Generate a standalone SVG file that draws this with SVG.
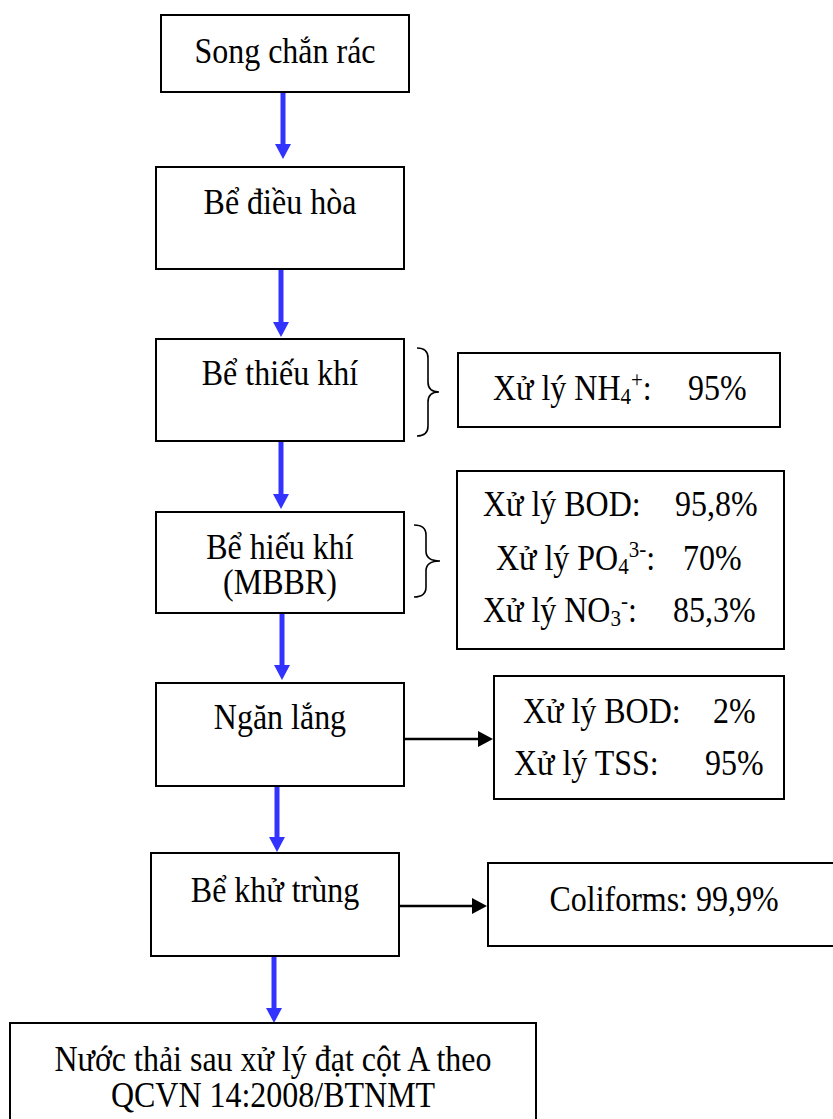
<svg xmlns="http://www.w3.org/2000/svg" width="833" height="1119" viewBox="0 0 833 1119">
<defs>
<style>
.box{fill:#fff;stroke:#000;stroke-width:2}
text{font-family:'Liberation Serif','Times New Roman','DejaVu Serif',serif;font-size:35px;fill:#000}
.c{text-anchor:middle}
.s{font-size:23px}
.flow{stroke:#3333ff;stroke-width:5;fill:none}
.side{stroke:#000;stroke-width:2.5;fill:none}
.brace{stroke:#000;stroke-width:1.6;fill:none}
</style>
<marker id="ab" viewBox="0 0 15 16" refX="0" refY="8" markerWidth="15" markerHeight="16" markerUnits="userSpaceOnUse" orient="auto"><path d="M0,0 L15,8 L0,16 z" fill="#3333ff"/></marker>
<marker id="ak" viewBox="0 0 15 16" refX="0" refY="8" markerWidth="15" markerHeight="16" markerUnits="userSpaceOnUse" orient="auto"><path d="M0,0 L15,8 L0,16 z" fill="#000"/></marker>
</defs>
<rect width="833" height="1119" fill="#fff"/>
<g id="connectors">
<line class="flow" x1="283" y1="92" x2="283" y2="144" marker-end="url(#ab)"/>
<line class="flow" x1="281" y1="269" x2="281" y2="322" marker-end="url(#ab)"/>
<line class="flow" x1="281" y1="441" x2="281" y2="494" marker-end="url(#ab)"/>
<line class="flow" x1="282" y1="613" x2="282" y2="665" marker-end="url(#ab)"/>
<line class="flow" x1="277" y1="786" x2="277" y2="837" marker-end="url(#ab)"/>
<line class="flow" x1="274" y1="956" x2="274" y2="1008" marker-end="url(#ab)"/>
<line class="side" x1="404" y1="739" x2="478" y2="739" marker-end="url(#ak)"/>
<line class="side" x1="399" y1="906" x2="472" y2="906" marker-end="url(#ak)"/>
<path class="brace" d="M417,348 Q428,348 428,358 L428,382 Q428,392 439,392 Q428,392 428,402 L428,426 Q428,436 417,436"/>
<path class="brace" d="M414,525 Q426,525 426,535 L426,551 Q426,561 440,561 Q426,561 426,571 L426,587 Q426,597 414,597"/>
</g>
<g id="n1"><rect class="box" x="161" y="15" width="248" height="77"/><text class="c" transform="scale(0.914,1)" x="311.8" y="63">Song chắn rác</text></g>
<g id="n2"><rect class="box" x="156" y="167" width="248" height="102"/><text class="c" transform="scale(0.914,1)" x="306.3" y="214">Bể điều hòa</text></g>
<g id="n3"><rect class="box" x="156" y="339" width="248" height="102"/><text class="c" transform="scale(0.914,1)" x="306.3" y="385">Bể thiếu khí</text></g>
<g id="n3r"><rect class="box" x="458" y="353" width="322" height="74"/>
<g transform="scale(0.914,1)">
<text x="539.4" y="400">Xử lý NH<tspan class="s" dy="4">4</tspan><tspan class="s" dy="-17">+</tspan><tspan dy="13">:</tspan></text>
<text x="752.7" y="400">95%</text></g></g>
<g id="n4"><rect class="box" x="156" y="512" width="248" height="101"/>
<g transform="scale(0.914,1)"><text class="c" x="306.3" y="559">Bể hiếu khí</text><text class="c" x="306.3" y="594">(MBBR)</text></g></g>
<g id="n4r"><rect class="box" x="457" y="471" width="327" height="178"/>
<g transform="scale(0.914,1)">
<text x="528.4" y="516">Xử lý BOD:</text><text x="738.5" y="516">95,8%</text>
<text x="542.7" y="570">Xử lý PO<tspan class="s" dy="4">4</tspan><tspan class="s" dy="-17">3-</tspan><tspan dy="13">:</tspan></text><text x="747.3" y="570">70%</text>
<text x="528.4" y="622">Xử lý NO<tspan class="s" dy="4">3</tspan><tspan class="s" dy="-17">-</tspan><tspan dy="13">:</tspan></text><text x="736.3" y="622">85,3%</text></g></g>
<g id="n5"><rect class="box" x="156" y="683" width="248" height="103"/><text class="c" transform="scale(0.914,1)" x="306.3" y="729">Ngăn lắng</text></g>
<g id="n5r"><rect class="box" x="494" y="676" width="290" height="123"/>
<g transform="scale(0.914,1)">
<text x="572.2" y="723">Xử lý BOD:</text><text x="780.1" y="723">2%</text>
<text x="562.4" y="775">Xử lý TSS:</text><text x="771.3" y="775">95%</text></g></g>
<g id="n6"><rect class="box" x="151" y="853" width="248" height="103"/><text class="c" transform="scale(0.914,1)" x="300.9" y="902">Bể khử trùng</text></g>
<g id="n6r"><rect class="box" x="488" y="863" width="352" height="83"/><text class="c" transform="scale(0.914,1)" x="726.5" y="911">Coliforms: 99,9%</text></g>
<g id="n7"><rect class="box" x="10" y="1023" width="526" height="110"/>
<g transform="scale(0.914,1)"><text class="c" x="298.7" y="1071">Nước thải sau xử lý đạt cột A theo</text><text class="c" x="298.7" y="1107">QCVN 14:2008/BTNMT</text></g></g>
</svg>
